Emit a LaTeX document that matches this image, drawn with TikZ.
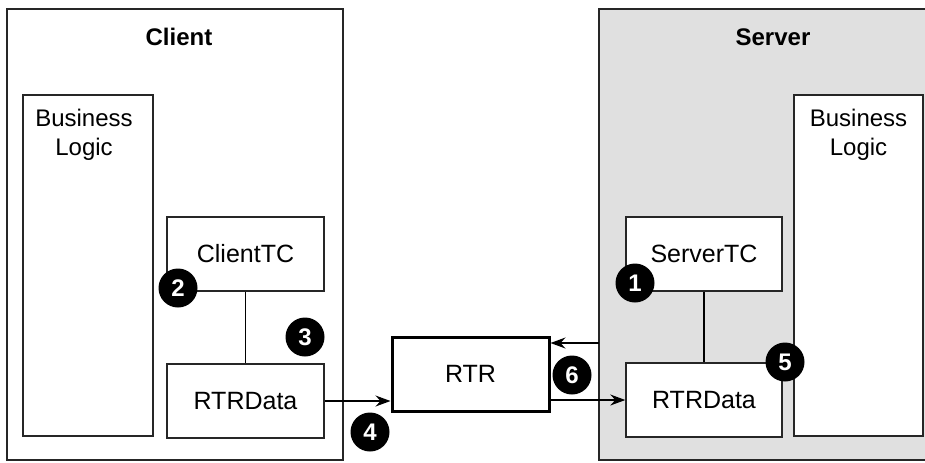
\documentclass[tikz,border=0pt]{standalone}
\usepackage{fontspec}
\setmainfont{Liberation Sans}
\usetikzlibrary{arrows.meta,calc,positioning}
\definecolor{srvgray}{HTML}{E0E0E0}
\tikzset{
  box/.style={draw=black!85, line width=0.7pt, fill=white, inner sep=0pt,
    minimum width=78.5pt, minimum height=37pt, font=\fontsize{12.5}{14.4}\selectfont},
  bl/.style={box, minimum width=65pt, minimum height=170.5pt},
  lbl/.style={anchor=north, align=center, yshift=-4pt, font=\fontsize{12}{14.4}\selectfont},
  side/.style={draw=black!85, line width=1.2pt, inner sep=0pt, minimum height=225.5pt},
  title/.style={font=\fontsize{12}{14.4}\selectfont\bfseries},
  num/.style={circle, fill=black, text=white, inner sep=0pt, minimum size=19.5pt,
    font=\fontsize{12}{14}\selectfont\bfseries},
  arr/.style={-{Stealth[length=7.5pt,width=5.5pt,inset=2.5pt]}, line width=0.6pt},
}
\begin{document}
\begin{tikzpicture}[x=0.5pt,y=-0.5pt]
	\useasboundingbox (0,0) rectangle (925,462);
	\begin{scope}
		\clip (0,0) rectangle (925,462);
		\node[side, minimum width=168pt] (client) at (175,234.5) {};
		\node[side, fill=srvgray, minimum width=174pt] (server) at (773,234.5) {};
	\end{scope}
	\node[title] (ctitle) at (179,37) {Client};
	\node[title] (stitle) at (773,37) {Server};
	% client side
	\node[bl, label={[lbl, xshift=-2pt]north:Business\\Logic}] (cbl) at (88,265.5) {};
	\node[box] (ctc) at (245.5,254) {ClientTC};
	\node[box] (cdata) at (245.5,401) {RTRData};
	% server side
	\node[bl, minimum width=64.5pt, label={[lbl]north:Business\\Logic}] (sbl) at (858.5,265.5) {};
	\node[box, minimum width=78pt] (stc) at (704,254) {ServerTC};
	\node[box, minimum width=78pt] (sdata) at (704,400) {RTRData};
	% router in between
	\node[box, line width=1.5pt, draw=black] (rtr) at (470.5,374) {RTR};
	\coordinate (ret) at (599,343);
	\draw[line width=0.6pt] (ctc.south) -- (cdata.north);
	\draw[line width=0.6pt] (stc.south) -- (sdata.north);
	\draw[arr] (cdata.east) -- (cdata.east -| rtr.west);
	\draw[arr] (ret) -- (ret -| rtr.east);
	\draw[arr] (rtr.east |- sdata.west) -- (sdata.west);
	% step numbers
	\foreach \n/\x/\y in {1/635/283, 2/178/288, 3/305/337, 4/370/432, 5/785/362, 6/572/375}
		\node[num] (n\n) at (\x,\y) {\n};
\end{tikzpicture}
\end{document}
